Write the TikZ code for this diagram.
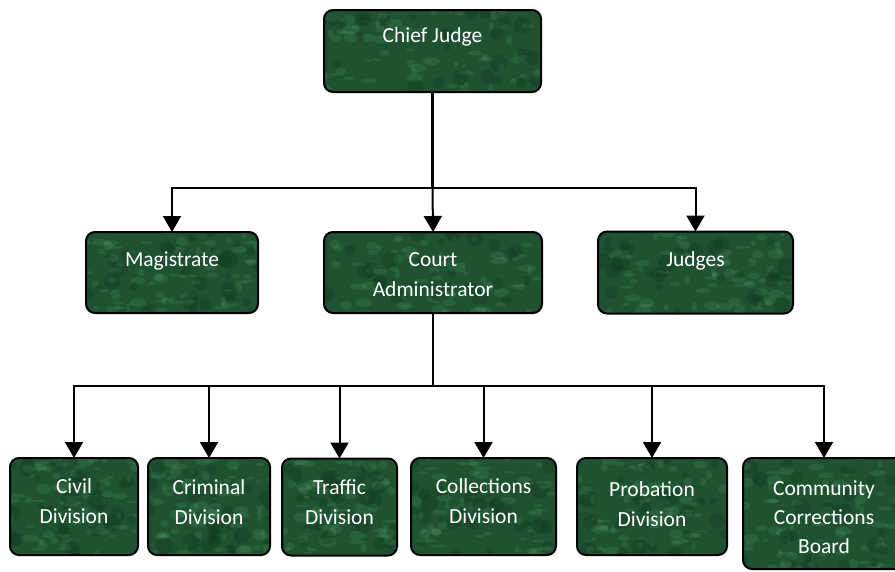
\documentclass[tikz,border=0pt]{standalone}
\usepackage{fontspec}
\setmainfont{Carlito}
\usetikzlibrary{arrows.meta,calc}
\definecolor{boxgreen}{RGB}{30,82,48}
\definecolor{mottle}{RGB}{110,180,130}
\definecolor{darkmottle}{RGB}{12,50,26}
\tikzset{
  box/.style={draw=black, line width=2pt, rounded corners=9pt, fill=boxgreen, inner sep=0pt, outer sep=0pt,
    path picture={
      \path (path picture bounding box.south west) coordinate (sw)
            (path picture bounding box.north east) coordinate (ne);
      \foreach \k in {1,...,70}{
        \pgfmathsetmacro{\px}{rnd}\pgfmathsetmacro{\py}{rnd}\pgfmathsetmacro{\pr}{2+7*rnd}
        \pgfmathsetmacro{\pq}{1+4*rnd}
        \fill[mottle, opacity=0.16] let \p1=(sw), \p2=(ne) in
          ({\x1+\px*(\x2-\x1)},{\y1+\py*(\y2-\y1)}) ellipse [x radius=\pr pt, y radius=\pq pt];
      }
      \foreach \k in {1,...,30}{
        \pgfmathsetmacro{\px}{rnd}\pgfmathsetmacro{\py}{rnd}\pgfmathsetmacro{\pr}{3+6*rnd}
        \fill[darkmottle, opacity=0.25] let \p1=(sw), \p2=(ne) in
          ({\x1+\px*(\x2-\x1)},{\y1+\py*(\y2-\y1)}) circle [radius=\pr pt];
      }
    }},
  lbl/.style={text=white, anchor=north, inner sep=0pt, align=center},
  midfont/.style={font=\fontsize{21.5}{30}\selectfont},
  lowfont/.style={font=\fontsize{21.5}{30}\selectfont},
  link/.style={line width=2pt, draw=black},
  mainlink/.style={line width=2.8pt, draw=black},
  arr/.style={link, -{Triangle[width=18pt,length=16pt]}},
}
\begin{document}
\begin{tikzpicture}[x=1pt,y=-1pt]
\pgfmathsetseed{7}
\clip (0,0) rectangle (895,571);
\fill[white] (0,0) rectangle (895,571);
% boxes
\node[box, minimum width=217pt, minimum height=82pt] (chief) at (432.5,51) {};
\node[box, minimum width=172pt, minimum height=81pt] (mag) at (172,272.5) {};
\node[box, minimum width=218pt, minimum height=81pt] (ca) at (433,272.5) {};
\node[box, minimum width=195pt, minimum height=82pt] (judges) at (695.5,272.5) {};
\node[box, minimum width=128pt, minimum height=97pt] (civil) at (74,506.5) {};
\node[box, minimum width=122pt, minimum height=97pt] (criminal) at (209,506.5) {};
\node[box, minimum width=115pt, minimum height=97pt] (traffic) at (339.5,507) {};
\node[box, minimum width=145pt, minimum height=97pt] (collections) at (483.5,506.5) {};
\node[box, minimum width=150pt, minimum height=97pt] (probation) at (652,506.5) {};
\node[box, minimum width=162pt, minimum height=111pt] (community) at (824,513.5) {};
% labels
\node[lbl, midfont, yshift=-17pt] (chiefT) at (chief.north) {Chief Judge};
\node[lbl, midfont, yshift=-20pt] (magT) at (mag.north) {Magistrate};
\node[lbl, midfont, yshift=-20pt] (caT) at (ca.north) {Court\\Administrator};
\node[lbl, midfont, yshift=-20pt] (judgesT) at (judges.north) {Judges};
\node[lbl, lowfont, yshift=-20pt] (civilT) at (civil.north) {Civil\\Division};
\node[lbl, lowfont, yshift=-21pt] (criminalT) at (criminal.north) {Criminal\\Division};
\node[lbl, lowfont, yshift=-21pt] (trafficT) at (traffic.north) {Traffic\\Division};
\node[lbl, lowfont, yshift=-20pt] (collectionsT) at (collections.north) {Collections\\Division};
\node[lbl, lowfont, yshift=-23pt] (probationT) at (probation.north) {Probation\\Division};
\node[lbl, font=\fontsize{21.5}{29}\selectfont, yshift=-23pt] (communityT) at (community.north) {Community\\Corrections\\Board};
% connectors
\coordinate (y1) at (0,188);
\coordinate (y2) at (0,386);
\coordinate (bus1) at (chief.south |- y1);
\coordinate (bus2) at (ca.south |- y2);
\draw[mainlink] (chief.south) -- (bus1);
\draw[arr] (bus1) -| (mag.north);
\draw[arr] (bus1) -- (ca.north);
\draw[arr] (bus1) -| (judges.north);
\draw[mainlink] (ca.south) -- (bus2);
\draw[arr] (bus2) -| (civil.north);
\draw[arr] (bus2) -| (criminal.north);
\draw[arr] (bus2) -| (traffic.north);
\draw[arr] (bus2) -| (collections.north);
\draw[arr] (bus2) -| (probation.north);
\draw[arr] (bus2) -| (community.north);
\end{tikzpicture}
\end{document}
